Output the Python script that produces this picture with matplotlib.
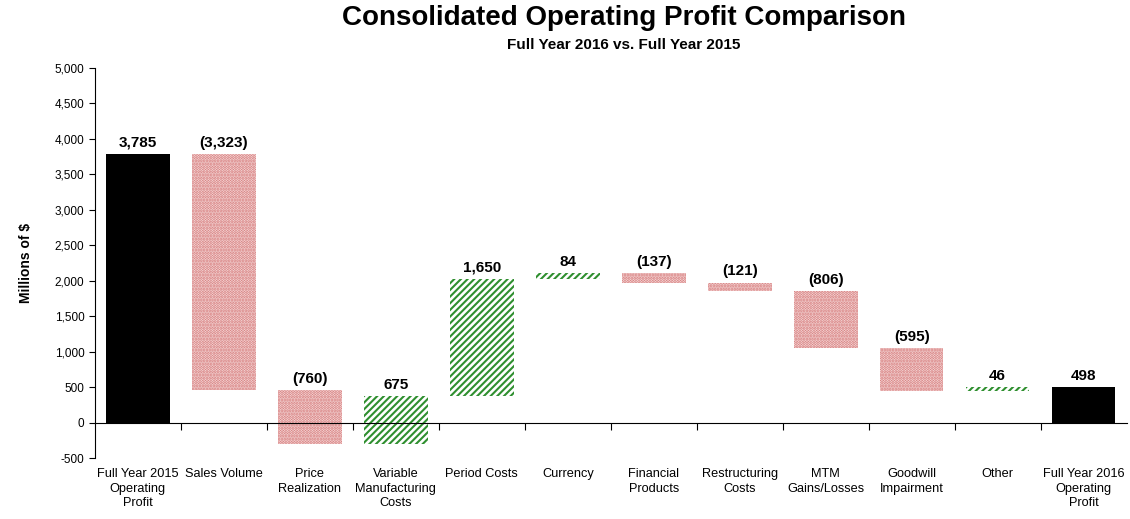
import matplotlib.pyplot as plt
import numpy as np
from matplotlib.ticker import FuncFormatter

categories = [
    "Full Year 2015\nOperating\nProfit", "Sales Volume", "Price\nRealization",
    "Variable\nManufacturing\nCosts", "Period Costs", "Currency",
    "Financial\nProducts", "Restructuring\nCosts", "MTM\nGains/Losses",
    "Goodwill\nImpairment", "Other", "Full Year 2016\nOperating\nProfit",
]
start_value = 3785
changes = [-3323, -760, 675, 1650, 84, -137, -121, -806, -595, 46]
end_value = 498

plt.rcParams["font.family"] = ["Liberation Sans Narrow", "Liberation Sans", "DejaVu Sans"]
plt.rcParams["hatch.linewidth"] = 1.5

fig = plt.figure(figsize=(11.3, 5.19), dpi=100)
ax = fig.add_axes([0.084, 0.1175, 0.913, 0.7515])

x = np.arange(len(categories))
width = 0.74

# totals
ax.bar(x[0], start_value, width, color="black")
ax.bar(x[-1], end_value, width, color="black")

level = start_value
tops = [start_value]
for i, c in enumerate(changes, start=1):
    new = level + c
    lo, hi = min(level, new), max(level, new)
    if c < 0:
        ax.bar(x[i], hi - lo, width, bottom=lo, facecolor="#fbeaea",
               edgecolor="#d27070", hatch="......", linewidth=0)
    else:
        ax.bar(x[i], hi - lo, width, bottom=lo, facecolor="white",
               edgecolor="#2f8f2f", hatch="/////", linewidth=0)
    tops.append(hi)
    level = new
tops.append(end_value)

labels = [start_value] + changes + [end_value]
for xi, top, v in zip(x, tops, labels):
    txt = f"({abs(v):,})" if v < 0 else f"{v:,}"
    ax.text(xi, top + 60, txt, ha="center", va="bottom",
            fontsize=11, fontweight="bold")

ax.set_xlim(-0.5, len(categories) - 0.5)
ax.set_ylim(-500, 5000)
ax.set_yticks(np.arange(-500, 5001, 500))
ax.yaxis.set_major_formatter(FuncFormatter(lambda v, p: f"{int(v):,}"))
ax.tick_params(axis="y", labelsize=8.5, length=4, direction="out")

ax.spines["top"].set_visible(False)
ax.spines["right"].set_visible(False)
ax.spines["bottom"].set_position(("data", 0))
ax.set_xticks(x[:-1] + 0.5)
ax.set_xticklabels([])
ax.tick_params(axis="x", length=5, direction="out")

for xi, cat in zip(x, categories):
    ax.text(xi, -640, cat, ha="center", va="top", fontsize=9.2,
            linespacing=1.3)

ax.set_ylabel("Millions of $", fontsize=10, fontweight="bold", labelpad=16)

fig.text(0.552, 0.965, "Consolidated Operating Profit Comparison",
         ha="center", va="center", fontsize=20, fontweight="bold")
fig.text(0.552, 0.913, "Full Year 2016 vs. Full Year 2015",
         ha="center", va="center", fontsize=11, fontweight="bold")

fig.savefig("out.png", dpi=100)
